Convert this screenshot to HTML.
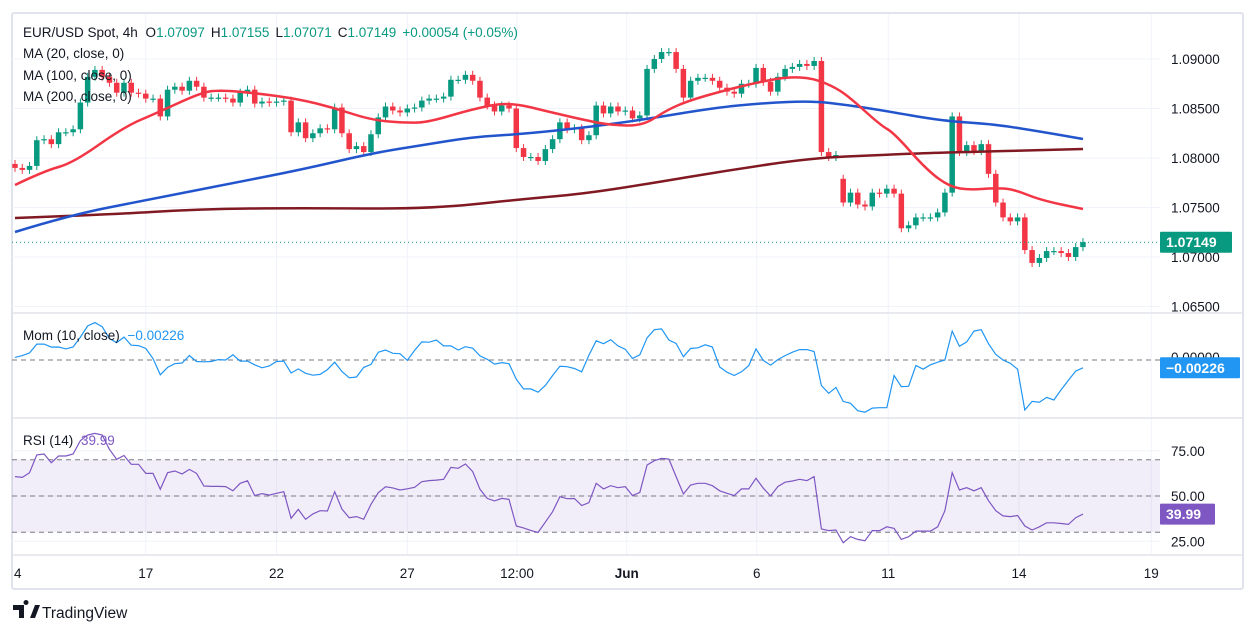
<!DOCTYPE html>
<html><head><meta charset="utf-8"><style>
html,body{margin:0;padding:0;background:#fff;width:1256px;height:634px;overflow:hidden}
svg{display:block;font-family:"Liberation Sans",sans-serif}
</style></head><body>
<svg id="c" width="1256" height="634" viewBox="0 0 1256 634">
<defs>
<clipPath id="mainClip"><rect x="12" y="14" width="1148" height="299"/></clipPath>
<clipPath id="momClip"><rect x="12" y="315" width="1148" height="103"/></clipPath>
<clipPath id="rsiClip"><rect x="12" y="420" width="1148" height="135"/></clipPath>
</defs>
<rect x="12" y="13" width="1231" height="576" fill="none" stroke="#e0e3eb" stroke-width="2" rx="2"/>
<g id="grid"></g>
<g id="main" clip-path="url(#mainClip)"></g>
<g id="mom" clip-path="url(#momClip)"></g>
<g id="rsi" clip-path="url(#rsiClip)"></g>
<g id="axes"></g>
<g font-size="13.5" fill="#131722">
<text x="23" y="37">EUR/USD Spot, 4h <tspan dx="4">O</tspan><tspan fill="#089981">1.07097</tspan><tspan dx="6">H</tspan><tspan fill="#089981">1.07155</tspan><tspan dx="6">L</tspan><tspan fill="#089981">1.07071</tspan><tspan dx="6">C</tspan><tspan fill="#089981">1.07149</tspan><tspan dx="6" fill="#089981">+0.00054 (+0.05%)</tspan></text>
<text x="23" y="58">MA (20, close, 0)</text>
<text x="23" y="80">MA (100, close, 0)</text>
<text x="23" y="101">MA (200, close, 0)</text>
<text x="23" y="340">Mom (10, close) <tspan dx="4" fill="#2196f3">−0.00226</tspan></text>
<text x="23" y="445">RSI (14) <tspan dx="4" fill="#7e57c2">39.99</tspan></text>
</g>
<g>
<path d="M13 605h11v13h-5v-8h-6z M26 605a2.5 2.5 0 1 1 0.01 0 M30 618l5-13h5l-5 13z" fill="#131722"/>
<text x="42" y="618" font-size="15.5" fill="#131722">TradingView</text>
</g>
</svg>
<script>
// ===== data =====
const closes = [1.0790,1.0788,1.0792,1.0818,1.0819,1.0814,1.0826,1.0826,1.0829,1.0856,
1.0882,1.0889,1.0882,1.0876,1.0866,1.0876,1.0866,1.0865,1.0860,1.0860,
1.0842,1.0869,1.0872,1.0868,1.0878,1.0872,1.0861,1.0861,1.0861,1.0860,
1.0856,1.0866,1.0869,1.0855,1.0857,1.0856,1.0857,1.0858,1.0826,1.0836,
1.0820,1.0825,1.0830,1.0829,1.0851,1.0825,1.0809,1.0812,1.0806,1.0824,
1.0841,1.0852,1.0848,1.0846,1.0850,1.0851,1.0858,1.0860,1.0860,1.0862,
1.0879,1.0879,1.0884,1.0878,1.0861,1.0853,1.0847,1.0853,1.0850,1.0810,
1.0801,1.0801,1.0797,1.0809,1.0819,1.0836,1.0829,1.0830,1.0818,1.0823,
1.0853,1.0845,1.0852,1.0847,1.0848,1.0840,1.0843,1.0890,1.0900,1.0907,
1.0907,1.0890,1.0861,1.0878,1.0881,1.0881,1.0878,1.0871,1.0867,1.0865,
1.0875,1.0875,1.0891,1.0877,1.0867,1.0882,1.0890,1.0892,1.0895,1.0893,
1.0898,1.0806,1.0801,1.0803,1.0755,1.0765,1.0753,1.0751,1.0765,1.0764,
1.0769,1.0764,1.0729,1.0732,1.0740,1.0740,1.0740,1.0745,1.0765,1.0842,
1.0806,1.0813,1.0807,1.0814,1.0784,1.0755,1.0740,1.0736,1.0740,1.0707,
1.0694,1.0699,1.0706,1.0706,1.0704,1.0700,1.0710,1.0715];
const firstOpen = 1.0794;
const openOverrides = {114: 1.0779};
const priorCloses = [1.0783,1.0776,1.0773,1.0775,1.0776,1.0779,1.0791,1.0796,1.0794,1.0794];
const ma20Idx = [0,4,8,15,19.5,25.5,28,33,39,44,49,54,57,63,68,73.6,79,82,86.4,89.7,93,98.4,102.5,106.3,109.8,113.1,115.3,119.1,121,125.5,128.7,131.5,134.6,137.4,141.1,147];
const ma20Vals = [1.07727,1.07869,1.07949,1.08313,1.08455,1.08657,1.08687,1.08657,1.08596,1.08505,1.08384,1.08354,1.08364,1.08495,1.08566,1.08465,1.08374,1.08333,1.08323,1.08485,1.08586,1.08697,1.08768,1.08818,1.08808,1.08707,1.08586,1.08333,1.08253,1.07879,1.07707,1.07677,1.07697,1.07687,1.07576,1.07485];
const ma100Idx = [0,7.6,18.2,30,39.2,49.3,56.2,63,69.9,79.1,87,96.1,103,109.8,114.5,119.1,127.7,134.6,141.5,147];
const ma100Vals = [1.07253,1.07424,1.07576,1.07747,1.07879,1.08051,1.08131,1.08212,1.08242,1.08313,1.08394,1.08505,1.08556,1.08576,1.08535,1.08485,1.08374,1.08343,1.08263,1.08192];
const ma200Idx = [0,12,25.5,39.2,57,70,78,87,98.4,109.8,119,125.5,147];
const ma200Vals = [1.07394,1.07424,1.07485,1.07495,1.07485,1.07586,1.07636,1.07737,1.07879,1.08000,1.08030,1.08051,1.08091];
const rsiVals = [60.7,60.3,62.9,72.7,73.2,68.4,72.1,72.1,73.2,80.6,
83.7,84.6,83.7,75.8,70.3,72.4,67.5,67.5,62.5,62.5,
53.7,62.9,63.8,62.2,64.7,62.5,55.5,55.3,55.3,55.2,
52.9,57,58.4,50.2,51.3,50.5,51.5,52.4,37.7,42.6,
37.1,40.1,41.9,41.7,52.4,42.8,38,38.6,37.1,45.4,
51.8,55.1,54.5,53.3,54,54.8,57.9,58.5,58.8,59.2,
65.8,65.3,67.7,63.5,53.7,48.7,47.3,48.7,48.1,33.4,
32.4,31,29.9,35.5,41.3,49.6,48.5,48.6,44.7,46.3,
57,53.9,55.7,54.6,55.2,50.2,52,67.1,69.5,70.8,
70.4,60.7,51.1,56.1,57,57,55.7,52.9,51.5,50.2,
53.9,53.9,59.8,54.3,50,55.2,57.6,58.3,59.2,58.5,
60.7,31.8,30.9,31.2,24.2,27.5,26,25.3,30.9,30.9,
33,32.1,26,27.5,30.6,30.6,30.6,33,41.9,62.9,
53.3,54.6,52.9,54.6,47.4,41.9,39,38.6,39.2,33.4,
31.2,33,35.2,35.2,34.8,34.3,38,39.99];
const priceTicks = [1.090,1.085,1.080,1.075,1.070,1.065];
const priceTickLabels = ["1.09000","1.08500","1.08000","1.07500","1.07000","1.06500"];
const rsiTicks = [75,50,25];
const rsiTickLabels = ["75.00","50.00","25.00"];
const dateLabels = ["4","17","22","27","12:00","Jun","6","11","14","19"];
const dateIdx = [0.4,18,36,54,69.1,84.2,102.1,120.2,138.2,156.4];
const lastPrice = 1.07149, lastPriceLabel = "1.07149";
const lastMomLabel = "−0.00226", lastRsiLabel = "39.99";

// ===== scales =====
const NS = "http://www.w3.org/2000/svg";
const xS = i => 15 + i * 7.265;
const yP = p => 59 + (1.090 - p) * 9900;
const yM = m => 360 - m * 3700;
const yR = v => 496 - (v - 50) * 1.81;
function mk(parent, tag, attrs) {
  const e = document.createElementNS(NS, tag);
  for (const k in attrs) e.setAttribute(k, attrs[k]);
  parent.appendChild(e);
  return e;
}
function smoothPath(pts) {
  let d = 'M' + pts[0][0].toFixed(1) + ' ' + pts[0][1].toFixed(1);
  for (let j = 1; j < pts.length - 1; j++) {
    const mx = (pts[j][0] + pts[j + 1][0]) / 2, my = (pts[j][1] + pts[j + 1][1]) / 2;
    d += ' Q' + pts[j][0].toFixed(1) + ' ' + pts[j][1].toFixed(1) + ' ' + mx.toFixed(1) + ' ' + my.toFixed(1);
  }
  const l = pts[pts.length - 1];
  d += ' L' + l[0].toFixed(1) + ' ' + l[1].toFixed(1);
  return d;
}
const grid = document.getElementById('grid'), main = document.getElementById('main'),
  mom = document.getElementById('mom'), rsi = document.getElementById('rsi'), axes = document.getElementById('axes');

// grid
priceTicks.forEach((p) => {
  const l = mk(grid, 'line', {x1: 12, x2: 1160, y1: yP(p), y2: yP(p), stroke: '#f0f3fa', 'stroke-width': 1});
  
  
});
rsiTicks.forEach((v) => {
  const l = mk(grid, 'line', {x1: 12, x2: 1160, y1: yR(v), y2: yR(v), stroke: '#f0f3fa'});
  
  
});
dateIdx.forEach((d, k) => {
  if (k === 0) return;
  const l = mk(grid, 'line', {x1: xS(d), x2: xS(d), y1: 14, y2: 555, stroke: '#f0f3fa'});
  
  
});
[313, 418, 555].forEach(y => {
  const l = mk(grid, 'line', {x1: 12, x2: 1243, y1: y, y2: y, stroke: '#e0e3eb', 'stroke-width': 1.5});
  
  
});

// candles
closes.forEach((c, i) => {
  const o = (i in openOverrides) ? openOverrides[i] : (i === 0 ? firstOpen : closes[i - 1]);
  const up = c >= o;
  const col = up ? '#089981' : '#f23645';
  const yt = yP(Math.max(o, c)), yb = yP(Math.min(o, c));
  const g = mk(main, 'g', {});
  
  
  mk(g, 'line', {x1: xS(i), x2: xS(i), y1: yt - 4, y2: yb + 4, stroke: col, 'stroke-width': 1});
  mk(g, 'rect', {x: xS(i) - 2.75, y: yt, width: 5.5, height: Math.max(1.2, yb - yt), fill: col});
});
// MAs
function maLine(idx, vals, col, name) {
  const pts = idx.map((k, j) => [xS(k), yP(vals[j])]);
  const p = mk(main, 'path', {d: smoothPath(pts), fill: 'none', stroke: col, 'stroke-width': 2.5, 'stroke-linejoin': 'round'});
  
  
}
maLine(ma200Idx, ma200Vals, '#801922', 'ma200-line');
maLine(ma100Idx, ma100Vals, '#2255cc', 'ma100-line');
maLine(ma20Idx, ma20Vals, '#f23645', 'ma20-line');
const pl = mk(main, 'line', {x1: 12, x2: 1160, y1: yP(lastPrice), y2: yP(lastPrice), stroke: '#089981', 'stroke-dasharray': '1 3'});



// momentum
const all = priorCloses.concat(closes);
const momVals = closes.map((c, i) => c - all[i]);
const z = mk(mom, 'line', {x1: 12, x2: 1160, y1: yM(0), y2: yM(0), stroke: '#787b86', 'stroke-dasharray': '5 4'});


const mp = mk(mom, 'path', {d: momVals.map((m, i) => (i ? 'L' : 'M') + xS(i).toFixed(1) + ' ' + yM(m).toFixed(1)).join(' '), fill: 'none', stroke: '#2196f3', 'stroke-width': 1.2});



// rsi
const band = mk(rsi, 'rect', {x: 12, y: yR(70), width: 1148, height: yR(30) - yR(70), fill: '#7e57c2', 'fill-opacity': 0.1});


[70, 50, 30].forEach(v => {
  const l = mk(rsi, 'line', {x1: 12, x2: 1160, y1: yR(v), y2: yR(v), stroke: '#787b86', 'stroke-dasharray': '5 4'});
  
  
});
const rp = mk(rsi, 'path', {d: rsiVals.map((v, i) => (i ? 'L' : 'M') + xS(i).toFixed(1) + ' ' + yR(v).toFixed(1)).join(' '), fill: 'none', stroke: '#7e57c2', 'stroke-width': 1.2});



// axes labels
priceTicks.forEach((p, k) => {
  const t = mk(axes, 'text', {x: 1171, y: yP(p) + 5, 'font-size': 13.5, fill: '#131722'});
  t.textContent = priceTickLabels[k];
  
  
});
rsiTicks.forEach((v, k) => {
  const t = mk(axes, 'text', {x: 1171, y: yR(v) + 5, 'font-size': 13.5, fill: '#131722'});
  t.textContent = rsiTickLabels[k];
  
  
});
const mz = mk(axes, 'text', {x: 1171, y: yM(0) + 2, 'font-size': 13.5, fill: '#131722'});
mz.textContent = '0.00000';


dateLabels.forEach((s, k) => {
  const t = mk(axes, 'text', {x: k === 0 ? 14 : xS(dateIdx[k]), y: 578, 'font-size': 13.5, fill: '#131722', 'text-anchor': k === 0 ? 'start' : 'middle', 'font-weight': s === 'Jun' ? 'bold' : 'normal'});
  t.textContent = s;
  
  
});
function badge(y, w, col, txt, name) {
  const g = mk(axes, 'g', {});
  
  
  mk(g, 'rect', {x: 1160, y: y - 10.5, width: w, height: 21, fill: col, rx: 1});
  const t = mk(g, 'text', {x: 1166, y: y + 5, 'font-size': 14, fill: '#fff', 'font-weight': 'bold'});
  t.textContent = txt;
}
badge(yP(lastPrice), 72, '#089981', lastPriceLabel, 'last-price-badge');
badge(yM(momVals[momVals.length - 1]) , 80, '#2196f3', lastMomLabel, 'mom-value-badge');
badge(yR(rsiVals[rsiVals.length - 1]), 55, '#7e57c2', lastRsiLabel, 'rsi-value-badge');
</script>
</body></html>
